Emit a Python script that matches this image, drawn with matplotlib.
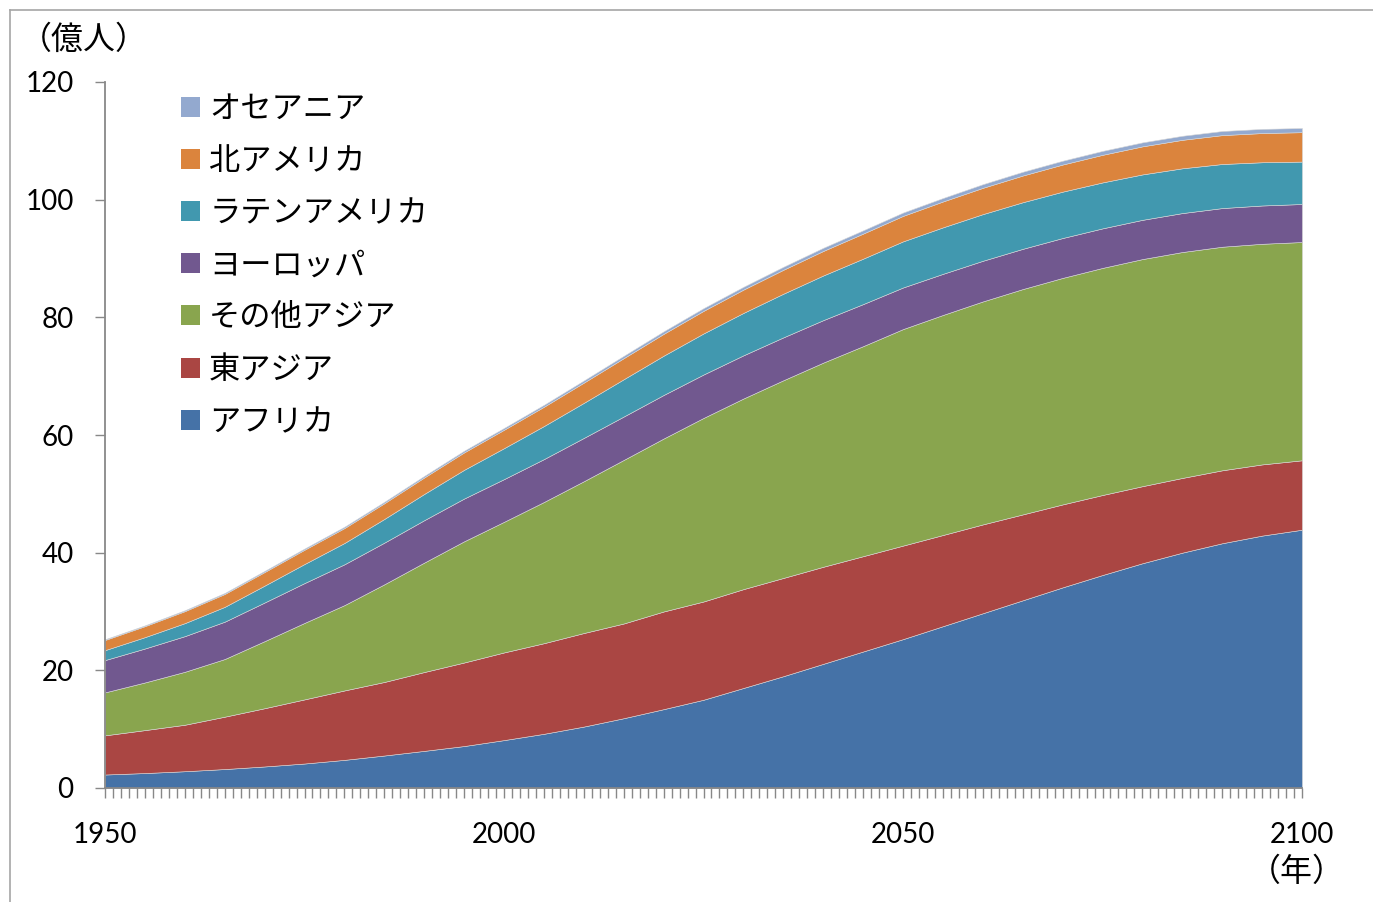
import matplotlib
matplotlib.use("Agg")
import matplotlib.pyplot as plt
from matplotlib.patches import Patch
from matplotlib.lines import Line2D

plt.rcParams['font.family'] = ['Lato', 'Noto Sans CJK JP', 'DejaVu Sans']

years = [1950, 1955, 1960, 1965, 1970, 1975, 1980, 1985, 1990, 1995, 2000,
         2005, 2010, 2015, 2020, 2025, 2030, 2035, 2040, 2045, 2050,
         2055, 2060, 2065, 2070, 2075, 2080, 2085, 2090, 2095, 2100]

africa = [2.29, 2.54, 2.85, 3.22, 3.66, 4.16, 4.78, 5.52, 6.31, 7.13, 8.14,
          9.21, 10.44, 11.86, 13.4, 15.0, 17.0, 19.0, 21.1, 23.2, 25.3,
          27.5, 29.7, 31.9, 34.1, 36.2, 38.2, 40.0, 41.6, 42.9, 43.9]
east_asia = [6.66, 7.3, 7.9, 8.9, 9.9, 10.9, 11.8, 12.5, 13.4, 14.2, 14.9,
             15.4, 15.9, 16.1, 16.6, 16.7, 16.8, 16.7, 16.5, 16.2, 15.9,
             15.5, 15.1, 14.6, 14.1, 13.6, 13.1, 12.7, 12.4, 12.1, 11.8]
other_asia = [7.3, 8.1, 9.0, 9.8, 11.4, 13.0, 14.5, 16.6, 18.6, 20.6, 22.2,
              24.0, 25.8, 27.8, 29.4, 31.2, 32.4, 33.6, 34.7, 35.7, 36.8,
              37.4, 37.9, 38.3, 38.5, 38.6, 38.6, 38.4, 38.0, 37.5, 37.1]
europe = [5.49, 5.77, 6.06, 6.35, 6.57, 6.77, 6.94, 7.08, 7.21, 7.27, 7.26,
          7.29, 7.36, 7.38, 7.40, 7.38, 7.34, 7.29, 7.22, 7.15, 7.07,
          6.99, 6.91, 6.84, 6.78, 6.72, 6.67, 6.62, 6.57, 6.51, 6.46]
latin_america = [1.69, 1.93, 2.21, 2.52, 2.87, 3.24, 3.62, 4.03, 4.46, 4.88, 5.26,
                 5.62, 5.96, 6.34, 6.68, 6.98, 7.21, 7.42, 7.59, 7.72, 7.84,
                 7.90, 7.93, 7.92, 7.88, 7.81, 7.72, 7.61, 7.49, 7.35, 7.21]
north_america = [1.73, 1.87, 2.04, 2.19, 2.31, 2.43, 2.54, 2.67, 2.80, 2.96, 3.13,
                 3.28, 3.44, 3.58, 3.71, 3.84, 3.96, 4.07, 4.17, 4.26, 4.33,
                 4.40, 4.47, 4.54, 4.61, 4.69, 4.77, 4.84, 4.91, 4.96, 5.00]
oceania = [0.13, 0.14, 0.16, 0.18, 0.20, 0.21, 0.23, 0.25, 0.27, 0.29, 0.31,
           0.33, 0.37, 0.40, 0.43, 0.46, 0.48, 0.51, 0.54, 0.56, 0.57,
           0.59, 0.62, 0.64, 0.65, 0.67, 0.68, 0.69, 0.70, 0.71, 0.71]

labels = ['アフリカ', '東アジア', 'その他アジア', 'ヨーロッパ', 'ラテンアメリカ', '北アメリカ', 'オセアニア']
colors = ['#4572A7', '#AA4643', '#89A54E', '#71588F', '#4198AF', '#DB843D', '#93A9CF']

x_major = [1950, 2000, 2050, 2100]
y_major = [0, 20, 40, 60, 80, 100, 120]

W, H = 1373, 902
fig = plt.figure(figsize=(W / 100, H / 100), dpi=100)
ax = fig.add_axes([105 / W, (H - 788) / H, (1302 - 105) / W, (788 - 82) / H])

ax.stackplot(years, africa, east_asia, other_asia, europe, latin_america,
             north_america, oceania, colors=colors, labels=labels,
             edgecolor='#d8d8d8', linewidth=0.4)

ax.set_xlim(1950, 2100)
ax.set_ylim(0, 120)

axis_col = '#888888'
for s in ['top', 'right']:
    ax.spines[s].set_visible(False)
for s in ['left', 'bottom']:
    ax.spines[s].set_color(axis_col)
    ax.spines[s].set_linewidth(1.3)

ax.set_yticks(y_major)
ax.set_yticklabels([str(v) for v in y_major])
ax.set_xticks(x_major)
ax.set_xticklabels([str(v) for v in x_major])
ax.set_xticks(list(range(1950, 2101)), minor=True)

ax.tick_params(axis='y', direction='out', length=7.5, width=1.0, color=axis_col,
               pad=15, labelsize=20, labelcolor='black')
ax.tick_params(axis='x', which='both', direction='out', length=7.5, width=1.0,
               color=axis_col)
ax.tick_params(axis='x', which='major', pad=17, labelsize=20, labelcolor='black')

# legend (reverse order: Oceania on top)
handles = [Patch(facecolor=c, edgecolor='none') for c in colors][::-1]
leg = fig.legend(handles, labels[::-1], loc='upper left',
                 bbox_to_anchor=(181 / W, (H - 95) / H),
                 frameon=False, fontsize=22.5, handlelength=0.6,
                 handleheight=0.6, handletextpad=0.3, labelspacing=0.77,
                 borderpad=0, borderaxespad=0)

fig.text(20 / W, (H - 40) / H, '（億人）', fontsize=23, va='center', ha='left')
fig.text(1297 / W, (H - 872) / H, '（年）', fontsize=23, va='center', ha='center')

# chart border (left and top visible)
fig.add_artist(Line2D([10 / W, 10 / W], [0, (H - 10) / H], color='#a6a6a6', lw=1.2))
fig.add_artist(Line2D([10 / W, 1], [(H - 10) / H, (H - 10) / H], color='#a6a6a6', lw=1.2))

fig.savefig('out.png', dpi=100)
